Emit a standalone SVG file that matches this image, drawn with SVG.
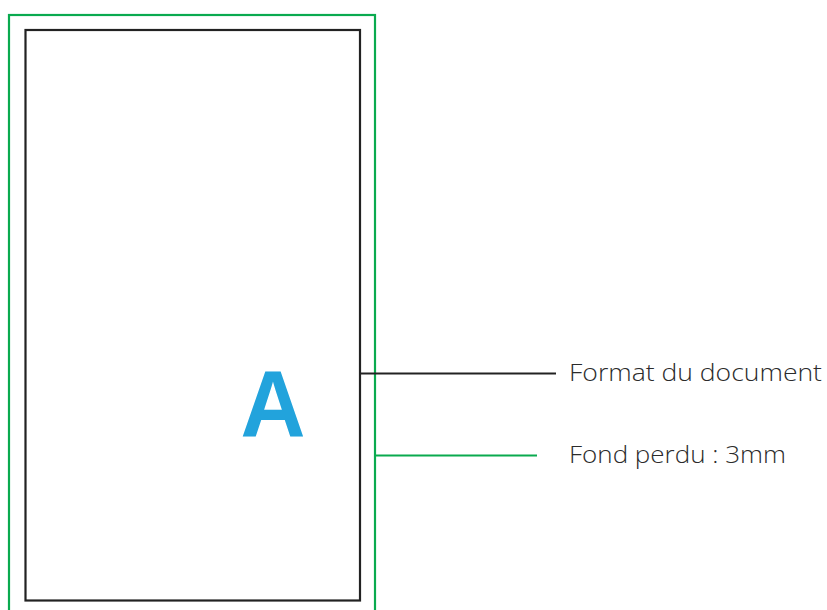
<svg xmlns="http://www.w3.org/2000/svg" width="827" height="610" viewBox="0 0 827 610">
<style>
.lbl{font-family:"Open Sans","Liberation Sans",Arial,sans-serif;font-size:23px;font-weight:300;fill:#2b2b2b}
</style>
<rect width="827" height="610" fill="#fff"/>
<g id="bleed"><rect x="9" y="15" width="366" height="620" fill="none" stroke="#0aaa4f" stroke-width="2.2"/></g>
<g id="document"><rect x="25.5" y="30" width="334.5" height="570.5" fill="none" stroke="#222" stroke-width="2.2"/>
<text x="273" y="437" text-anchor="middle" font-family="Liberation Sans,Arial,sans-serif" font-weight="bold" font-size="95" fill="#22a3dc" textLength="65" lengthAdjust="spacingAndGlyphs">A</text></g>
<g id="connectors">
<line x1="360" y1="373.5" x2="556" y2="373.5" stroke="#222" stroke-width="2"/>
<line x1="376" y1="455.5" x2="537" y2="455.5" stroke="#0aaa4f" stroke-width="2"/>
</g>
<g id="label-format"><text class="lbl" x="569" y="381" textLength="253" lengthAdjust="spacingAndGlyphs">Format du document</text></g>
<g id="label-fond"><text class="lbl" x="569" y="463" textLength="217" lengthAdjust="spacingAndGlyphs">Fond perdu : 3mm</text></g>
</svg>
